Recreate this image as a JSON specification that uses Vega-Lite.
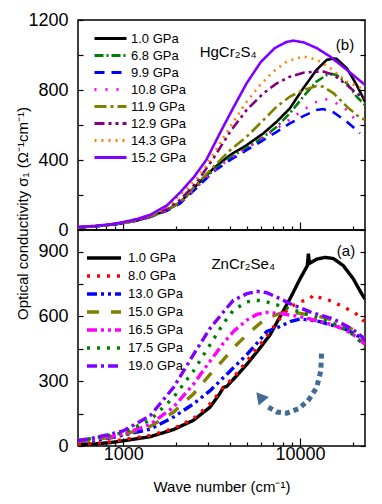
{
"$schema": "https://vega.github.io/schema/vega-lite/v6.json",
"padding": {"left": 14, "top": 10, "right": 5, "bottom": 5},
"background": "white",
"spacing": 0,
"bounds": "flush",
"config": {
  "view": {"stroke": "black", "strokeWidth": 1.5},
  "font": "Liberation Sans",
  "axis": {"grid": false, "domain": false, "labelFont": "Liberation Sans", "labelFontSize": 18, "labelColor": "black", "tickColor": "black", "tickWidth": 1.2, "titleFont": "Liberation Sans", "titleFontWeight": "normal", "titleColor": "black"},
  "legend": {"padding": 0}
},
"datasets": {
"hg": [
{"p":"1.0 GPa","wn":555,"s":15},{"p":"1.0 GPa","wn":700,"s":22},{"p":"1.0 GPa","wn":850,"s":30},{"p":"1.0 GPa","wn":1000,"s":40},{"p":"1.0 GPa","wn":1200,"s":55},{"p":"1.0 GPa","wn":1420,"s":76},{"p":"1.0 GPa","wn":1765,"s":113},{"p":"1.0 GPa","wn":2100,"s":158},{"p":"1.0 GPa","wn":2600,"s":256},{"p":"1.0 GPa","wn":3230,"s":351},{"p":"1.0 GPa","wn":4020,"s":428},{"p":"1.0 GPa","wn":4990,"s":485},{"p":"1.0 GPa","wn":6200,"s":552},{"p":"1.0 GPa","wn":7380,"s":619},{"p":"1.0 GPa","wn":8760,"s":695},{"p":"1.0 GPa","wn":10430,"s":810},{"p":"1.0 GPa","wn":12400,"s":915},{"p":"1.0 GPa","wn":14150,"s":972},{"p":"1.0 GPa","wn":15500,"s":980},{"p":"1.0 GPa","wn":16100,"s":978},{"p":"1.0 GPa","wn":18400,"s":924},{"p":"1.0 GPa","wn":20900,"s":829},{"p":"1.0 GPa","wn":23300,"s":733},
{"p":"6.8 GPa","wn":555,"s":15},{"p":"6.8 GPa","wn":700,"s":22},{"p":"6.8 GPa","wn":850,"s":30},{"p":"6.8 GPa","wn":1000,"s":40},{"p":"6.8 GPa","wn":1200,"s":55},{"p":"6.8 GPa","wn":1420,"s":75},{"p":"6.8 GPa","wn":1765,"s":112},{"p":"6.8 GPa","wn":2100,"s":155},{"p":"6.8 GPa","wn":2600,"s":250},{"p":"6.8 GPa","wn":3230,"s":340},{"p":"6.8 GPa","wn":4020,"s":415},{"p":"6.8 GPa","wn":4990,"s":470},{"p":"6.8 GPa","wn":6200,"s":530},{"p":"6.8 GPa","wn":7380,"s":590},{"p":"6.8 GPa","wn":8760,"s":667},{"p":"6.8 GPa","wn":10430,"s":762},{"p":"6.8 GPa","wn":12400,"s":848},{"p":"6.8 GPa","wn":14150,"s":886},{"p":"6.8 GPa","wn":15100,"s":892},{"p":"6.8 GPa","wn":16100,"s":886},{"p":"6.8 GPa","wn":18400,"s":838},{"p":"6.8 GPa","wn":20900,"s":762},{"p":"6.8 GPa","wn":23300,"s":714},
{"p":"9.9 GPa","wn":555,"s":15},{"p":"9.9 GPa","wn":700,"s":21},{"p":"9.9 GPa","wn":850,"s":29},{"p":"9.9 GPa","wn":1000,"s":39},{"p":"9.9 GPa","wn":1200,"s":54},{"p":"9.9 GPa","wn":1420,"s":74},{"p":"9.9 GPa","wn":1765,"s":110},{"p":"9.9 GPa","wn":2100,"s":152},{"p":"9.9 GPa","wn":2600,"s":240},{"p":"9.9 GPa","wn":3230,"s":332},{"p":"9.9 GPa","wn":4020,"s":399},{"p":"9.9 GPa","wn":4990,"s":456},{"p":"9.9 GPa","wn":6200,"s":514},{"p":"9.9 GPa","wn":7380,"s":561},{"p":"9.9 GPa","wn":8760,"s":609},{"p":"9.9 GPa","wn":10430,"s":651},{"p":"9.9 GPa","wn":12400,"s":686},{"p":"9.9 GPa","wn":13540,"s":691},{"p":"9.9 GPa","wn":15500,"s":672},{"p":"9.9 GPa","wn":18400,"s":619},{"p":"9.9 GPa","wn":20900,"s":570},{"p":"9.9 GPa","wn":21800,"s":552},
{"p":"10.8 GPa","wn":555,"s":15},{"p":"10.8 GPa","wn":700,"s":22},{"p":"10.8 GPa","wn":850,"s":30},{"p":"10.8 GPa","wn":1000,"s":40},{"p":"10.8 GPa","wn":1200,"s":55},{"p":"10.8 GPa","wn":1420,"s":75},{"p":"10.8 GPa","wn":1765,"s":112},{"p":"10.8 GPa","wn":2100,"s":155},{"p":"10.8 GPa","wn":2600,"s":245},{"p":"10.8 GPa","wn":3230,"s":335},{"p":"10.8 GPa","wn":4020,"s":410},{"p":"10.8 GPa","wn":4990,"s":465},{"p":"10.8 GPa","wn":6200,"s":530},{"p":"10.8 GPa","wn":7380,"s":580},{"p":"10.8 GPa","wn":8760,"s":632},{"p":"10.8 GPa","wn":10430,"s":686},{"p":"10.8 GPa","wn":12400,"s":733},{"p":"10.8 GPa","wn":13800,"s":749},{"p":"10.8 GPa","wn":15500,"s":733},{"p":"10.8 GPa","wn":18400,"s":686},{"p":"10.8 GPa","wn":20900,"s":620},{"p":"10.8 GPa","wn":21800,"s":600},
{"p":"11.9 GPa","wn":555,"s":15},{"p":"11.9 GPa","wn":700,"s":22},{"p":"11.9 GPa","wn":850,"s":30},{"p":"11.9 GPa","wn":1000,"s":40},{"p":"11.9 GPa","wn":1200,"s":56},{"p":"11.9 GPa","wn":1420,"s":77},{"p":"11.9 GPa","wn":1765,"s":115},{"p":"11.9 GPa","wn":2100,"s":160},{"p":"11.9 GPa","wn":2600,"s":260},{"p":"11.9 GPa","wn":3230,"s":360},{"p":"11.9 GPa","wn":4020,"s":456},{"p":"11.9 GPa","wn":4990,"s":533},{"p":"11.9 GPa","wn":6200,"s":628},{"p":"11.9 GPa","wn":7380,"s":705},{"p":"11.9 GPa","wn":8760,"s":762},{"p":"11.9 GPa","wn":10430,"s":800},{"p":"11.9 GPa","wn":12400,"s":823},{"p":"11.9 GPa","wn":13540,"s":819},{"p":"11.9 GPa","wn":15500,"s":781},{"p":"11.9 GPa","wn":18400,"s":705},{"p":"11.9 GPa","wn":20900,"s":657},{"p":"11.9 GPa","wn":23300,"s":628},
{"p":"12.9 GPa","wn":555,"s":15},{"p":"12.9 GPa","wn":700,"s":22},{"p":"12.9 GPa","wn":850,"s":31},{"p":"12.9 GPa","wn":1000,"s":42},{"p":"12.9 GPa","wn":1200,"s":58},{"p":"12.9 GPa","wn":1420,"s":80},{"p":"12.9 GPa","wn":1765,"s":120},{"p":"12.9 GPa","wn":2100,"s":172},{"p":"12.9 GPa","wn":2600,"s":272},{"p":"12.9 GPa","wn":3230,"s":408},{"p":"12.9 GPa","wn":4020,"s":561},{"p":"12.9 GPa","wn":4990,"s":686},{"p":"12.9 GPa","wn":6200,"s":781},{"p":"12.9 GPa","wn":7380,"s":838},{"p":"12.9 GPa","wn":8760,"s":876},{"p":"12.9 GPa","wn":10430,"s":899},{"p":"12.9 GPa","wn":12400,"s":905},{"p":"12.9 GPa","wn":13540,"s":905},{"p":"12.9 GPa","wn":15500,"s":886},{"p":"12.9 GPa","wn":18400,"s":829},{"p":"12.9 GPa","wn":20900,"s":781},{"p":"12.9 GPa","wn":23300,"s":750},
{"p":"14.3 GPa","wn":555,"s":16},{"p":"14.3 GPa","wn":700,"s":23},{"p":"14.3 GPa","wn":850,"s":32},{"p":"14.3 GPa","wn":1000,"s":43},{"p":"14.3 GPa","wn":1200,"s":60},{"p":"14.3 GPa","wn":1420,"s":82},{"p":"14.3 GPa","wn":1765,"s":130},{"p":"14.3 GPa","wn":2100,"s":200},{"p":"14.3 GPa","wn":2610,"s":294},{"p":"14.3 GPa","wn":2970,"s":371},{"p":"14.3 GPa","wn":3380,"s":466},{"p":"14.3 GPa","wn":4200,"s":619},{"p":"14.3 GPa","wn":5000,"s":734},{"p":"14.3 GPa","wn":5950,"s":829},{"p":"14.3 GPa","wn":7080,"s":906},{"p":"14.3 GPa","wn":8420,"s":963},{"p":"14.3 GPa","wn":10460,"s":992},{"p":"14.3 GPa","wn":12450,"s":973},{"p":"14.3 GPa","wn":14800,"s":925},{"p":"14.3 GPa","wn":18400,"s":848},{"p":"14.3 GPa","wn":23300,"s":800},
{"p":"15.2 GPa","wn":555,"s":17},{"p":"15.2 GPa","wn":700,"s":24},{"p":"15.2 GPa","wn":850,"s":33},{"p":"15.2 GPa","wn":1000,"s":45},{"p":"15.2 GPa","wn":1200,"s":63},{"p":"15.2 GPa","wn":1420,"s":87},{"p":"15.2 GPa","wn":1765,"s":140},{"p":"15.2 GPa","wn":2100,"s":215},{"p":"15.2 GPa","wn":2500,"s":300},{"p":"15.2 GPa","wn":2950,"s":400},{"p":"15.2 GPa","wn":3550,"s":560},{"p":"15.2 GPa","wn":4200,"s":700},{"p":"15.2 GPa","wn":5000,"s":840},{"p":"15.2 GPa","wn":6000,"s":960},{"p":"15.2 GPa","wn":7200,"s":1040},{"p":"15.2 GPa","wn":8400,"s":1075},{"p":"15.2 GPa","wn":9200,"s":1082},{"p":"15.2 GPa","wn":10500,"s":1072},{"p":"15.2 GPa","wn":12400,"s":1040},{"p":"15.2 GPa","wn":14800,"s":991},{"p":"15.2 GPa","wn":18400,"s":915},{"p":"15.2 GPa","wn":23300,"s":829}
],
"zn": [
{"p":"1.0 GPa","wn":555,"s":5},{"p":"1.0 GPa","wn":700,"s":10},{"p":"1.0 GPa","wn":850,"s":16},{"p":"1.0 GPa","wn":1000,"s":24},{"p":"1.0 GPa","wn":1420,"s":43},{"p":"1.0 GPa","wn":1925,"s":76},{"p":"1.0 GPa","wn":2495,"s":119},{"p":"1.0 GPa","wn":3100,"s":180},{"p":"1.0 GPa","wn":3500,"s":240},{"p":"1.0 GPa","wn":3690,"s":271},{"p":"1.0 GPa","wn":3850,"s":276},{"p":"1.0 GPa","wn":4200,"s":309},{"p":"1.0 GPa","wn":5000,"s":378},{"p":"1.0 GPa","wn":5940,"s":454},{"p":"1.0 GPa","wn":6770,"s":515},{"p":"1.0 GPa","wn":7710,"s":599},{"p":"1.0 GPa","wn":8780,"s":682},{"p":"1.0 GPa","wn":10000,"s":774},{"p":"1.0 GPa","wn":11000,"s":835},{"p":"1.0 GPa","wn":11150,"s":890},{"p":"1.0 GPa","wn":11300,"s":845},{"p":"1.0 GPa","wn":12420,"s":865},{"p":"1.0 GPa","wn":13840,"s":873},{"p":"1.0 GPa","wn":15420,"s":868},{"p":"1.0 GPa","wn":17570,"s":835},{"p":"1.0 GPa","wn":20010,"s":774},{"p":"1.0 GPa","wn":22300,"s":705},{"p":"1.0 GPa","wn":23300,"s":680},
{"p":"8.0 GPa","wn":555,"s":8},{"p":"8.0 GPa","wn":700,"s":12},{"p":"8.0 GPa","wn":850,"s":20},{"p":"8.0 GPa","wn":1000,"s":30},{"p":"8.0 GPa","wn":1420,"s":49},{"p":"8.0 GPa","wn":1925,"s":81},{"p":"8.0 GPa","wn":2495,"s":126},{"p":"8.0 GPa","wn":3100,"s":195},{"p":"8.0 GPa","wn":3690,"s":271},{"p":"8.0 GPa","wn":4200,"s":317},{"p":"8.0 GPa","wn":5000,"s":393},{"p":"8.0 GPa","wn":5940,"s":469},{"p":"8.0 GPa","wn":6770,"s":530},{"p":"8.0 GPa","wn":7710,"s":591},{"p":"8.0 GPa","wn":8780,"s":644},{"p":"8.0 GPa","wn":10000,"s":667},{"p":"8.0 GPa","wn":11390,"s":682},{"p":"8.0 GPa","wn":11900,"s":700},{"p":"8.0 GPa","wn":12420,"s":690},{"p":"8.0 GPa","wn":13840,"s":682},{"p":"8.0 GPa","wn":15420,"s":667},{"p":"8.0 GPa","wn":17570,"s":644},{"p":"8.0 GPa","wn":20010,"s":621},{"p":"8.0 GPa","wn":22300,"s":594},{"p":"8.0 GPa","wn":23300,"s":570},
{"p":"13.0 GPa","wn":555,"s":20},{"p":"13.0 GPa","wn":700,"s":28},{"p":"13.0 GPa","wn":850,"s":38},{"p":"13.0 GPa","wn":1000,"s":50},{"p":"13.0 GPa","wn":1420,"s":78},{"p":"13.0 GPa","wn":1925,"s":134},{"p":"13.0 GPa","wn":2495,"s":195},{"p":"13.0 GPa","wn":3100,"s":256},{"p":"13.0 GPa","wn":3690,"s":317},{"p":"13.0 GPa","wn":4200,"s":362},{"p":"13.0 GPa","wn":5000,"s":423},{"p":"13.0 GPa","wn":5940,"s":492},{"p":"13.0 GPa","wn":6480,"s":530},{"p":"13.0 GPa","wn":7710,"s":553},{"p":"13.0 GPa","wn":8780,"s":576},{"p":"13.0 GPa","wn":10000,"s":588},{"p":"13.0 GPa","wn":11390,"s":583},{"p":"13.0 GPa","wn":12970,"s":576},{"p":"13.0 GPa","wn":15420,"s":557},{"p":"13.0 GPa","wn":17570,"s":545},{"p":"13.0 GPa","wn":20010,"s":522},{"p":"13.0 GPa","wn":22300,"s":500},{"p":"13.0 GPa","wn":23300,"s":475},
{"p":"15.0 GPa","wn":555,"s":20},{"p":"15.0 GPa","wn":700,"s":30},{"p":"15.0 GPa","wn":850,"s":40},{"p":"15.0 GPa","wn":1000,"s":52},{"p":"15.0 GPa","wn":1420,"s":90},{"p":"15.0 GPa","wn":1925,"s":157},{"p":"15.0 GPa","wn":2495,"s":241},{"p":"15.0 GPa","wn":3100,"s":332},{"p":"15.0 GPa","wn":3690,"s":400},{"p":"15.0 GPa","wn":4200,"s":454},{"p":"15.0 GPa","wn":5000,"s":515},{"p":"15.0 GPa","wn":5940,"s":568},{"p":"15.0 GPa","wn":6480,"s":591},{"p":"15.0 GPa","wn":7710,"s":614},{"p":"15.0 GPa","wn":8780,"s":621},{"p":"15.0 GPa","wn":10000,"s":614},{"p":"15.0 GPa","wn":11390,"s":606},{"p":"15.0 GPa","wn":12970,"s":599},{"p":"15.0 GPa","wn":15420,"s":583},{"p":"15.0 GPa","wn":17570,"s":560},{"p":"15.0 GPa","wn":20010,"s":538},{"p":"15.0 GPa","wn":22300,"s":515},{"p":"15.0 GPa","wn":23300,"s":500},
{"p":"16.5 GPa","wn":555,"s":25},{"p":"16.5 GPa","wn":700,"s":33},{"p":"16.5 GPa","wn":850,"s":43},{"p":"16.5 GPa","wn":1000,"s":55},{"p":"16.5 GPa","wn":1420,"s":100},{"p":"16.5 GPa","wn":1925,"s":180},{"p":"16.5 GPa","wn":2495,"s":286},{"p":"16.5 GPa","wn":3100,"s":393},{"p":"16.5 GPa","wn":3690,"s":477},{"p":"16.5 GPa","wn":4200,"s":530},{"p":"16.5 GPa","wn":5000,"s":583},{"p":"16.5 GPa","wn":5690,"s":609},{"p":"16.5 GPa","wn":6480,"s":618},{"p":"16.5 GPa","wn":7710,"s":614},{"p":"16.5 GPa","wn":8780,"s":606},{"p":"16.5 GPa","wn":10000,"s":599},{"p":"16.5 GPa","wn":11390,"s":588},{"p":"16.5 GPa","wn":12970,"s":576},{"p":"16.5 GPa","wn":15420,"s":560},{"p":"16.5 GPa","wn":17570,"s":542},{"p":"16.5 GPa","wn":20010,"s":515},{"p":"16.5 GPa","wn":22300,"s":484},{"p":"16.5 GPa","wn":23300,"s":470},
{"p":"17.5 GPa","wn":555,"s":25},{"p":"17.5 GPa","wn":700,"s":38},{"p":"17.5 GPa","wn":850,"s":50},{"p":"17.5 GPa","wn":1000,"s":62},{"p":"17.5 GPa","wn":1420,"s":120},{"p":"17.5 GPa","wn":1925,"s":225},{"p":"17.5 GPa","wn":2495,"s":347},{"p":"17.5 GPa","wn":3100,"s":469},{"p":"17.5 GPa","wn":3690,"s":568},{"p":"17.5 GPa","wn":4200,"s":629},{"p":"17.5 GPa","wn":5000,"s":667},{"p":"17.5 GPa","wn":5690,"s":675},{"p":"17.5 GPa","wn":6480,"s":667},{"p":"17.5 GPa","wn":7710,"s":649},{"p":"17.5 GPa","wn":8780,"s":634},{"p":"17.5 GPa","wn":10000,"s":621},{"p":"17.5 GPa","wn":11390,"s":606},{"p":"17.5 GPa","wn":12970,"s":591},{"p":"17.5 GPa","wn":15420,"s":568},{"p":"17.5 GPa","wn":17570,"s":545},{"p":"17.5 GPa","wn":20010,"s":515},{"p":"17.5 GPa","wn":22300,"s":477},{"p":"17.5 GPa","wn":23300,"s":450},
{"p":"19.0 GPa","wn":555,"s":25},{"p":"19.0 GPa","wn":700,"s":40},{"p":"19.0 GPa","wn":850,"s":55},{"p":"19.0 GPa","wn":1000,"s":70},{"p":"19.0 GPa","wn":1420,"s":140},{"p":"19.0 GPa","wn":1925,"s":271},{"p":"19.0 GPa","wn":2495,"s":423},{"p":"19.0 GPa","wn":3100,"s":545},{"p":"19.0 GPa","wn":3690,"s":621},{"p":"19.0 GPa","wn":4200,"s":675},{"p":"19.0 GPa","wn":5000,"s":705},{"p":"19.0 GPa","wn":5690,"s":716},{"p":"19.0 GPa","wn":6480,"s":710},{"p":"19.0 GPa","wn":7710,"s":682},{"p":"19.0 GPa","wn":8780,"s":659},{"p":"19.0 GPa","wn":10000,"s":640},{"p":"19.0 GPa","wn":11390,"s":621},{"p":"19.0 GPa","wn":12970,"s":606},{"p":"19.0 GPa","wn":15420,"s":588},{"p":"19.0 GPa","wn":17570,"s":564},{"p":"19.0 GPa","wn":20010,"s":538},{"p":"19.0 GPa","wn":22300,"s":507},{"p":"19.0 GPa","wn":23300,"s":490}
],
"notes_b": [{"t":"HgCr₂S₄","wn":3920,"s":1020},{"t":"(b)","wn":17950,"s":1060}],
"notes_a": [{"t":"ZnCr₂Se₄","wn":4770,"s":843},{"t":"(a)","wn":18200,"s":903}],
"arrow": [{"wn":13250,"s":446},{"wn":13100,"s":347},{"wn":12420,"s":271},{"wn":11120,"s":210},{"wn":9780,"s":172},{"wn":8410,"s":152},{"wn":7380,"s":157},{"wn":6620,"s":180}],
"arrowhead": [{"wn":5940,"s":228}]
},
"vconcat": [
{
  "width": 287, "height": 210,
  "layer": [
    {
      "data": {"name": "hg"},
      "mark": {"type": "line", "strokeWidth": 2.6, "clip": true},
      "encoding": {
        "x": {"field": "wn", "type": "quantitative", "scale": {"type": "log", "domain": [555, 23300], "nice": false},
              "axis": {"values": [600,700,800,900,1000,2000,3000,4000,5000,6000,7000,8000,9000,10000,20000], "labels": false, "title": null,
                       "tickSize": {"condition": {"test": "datum.value == 1000 || datum.value == 10000", "value": -8}, "value": -4}}},
        "y": {"field": "s", "type": "quantitative", "scale": {"domain": [0, 1200], "nice": false},
              "axis": {"values": [0,200,400,600,800,1000,1200], "labelExpr": "datum.value % 400 == 0 ? '' + datum.value : ''", "tickSize": -5, "labelPadding": 15,
                       "title": "Optical conductivity  σ₁ (Ω⁻¹cm⁻¹)", "titleFontSize": 15, "titleX": -48, "titleY": 193, "titleAngle": -90, "titleAlign": "center", "titleBaseline": "bottom"}},
        "color": {"field": "p", "type": "nominal",
                  "scale": {"domain": ["1.0 GPa","6.8 GPa","9.9 GPa","10.8 GPa","11.9 GPa","12.9 GPa","14.3 GPa","15.2 GPa"],
                            "range": ["#000000","#008000","#0000FF","#FF00FF","#808000","#800080","#FF8000","#8000FF"]},
                  "legend": {"orient": "none", "legendX": 23, "legendY": 9, "title": null, "labelFontSize": 13, "labelFont": "Liberation Sans", "labelColor": "black", "symbolType": "M-2,0H2", "symbolStrokeWidth": 3, "symbolSize": 256, "rowPadding": 0, "labelOffset": 11}},
        "strokeDash": {"field": "p", "type": "nominal",
                  "scale": {"domain": ["1.0 GPa","6.8 GPa","9.9 GPa","10.8 GPa","11.9 GPa","12.9 GPa","14.3 GPa","15.2 GPa"],
                            "range": [[1,0],[9,3,2,3],[10,7],[2,9],[12,4,3,4],[10,4,3,4,3,4],[2,5],[1,0]]},
                  "legend": {"orient": "none", "legendX": 23, "legendY": 9, "title": null, "labelFontSize": 13, "labelFont": "Liberation Sans", "labelColor": "black", "symbolType": "M-2,0H2", "symbolStrokeWidth": 3, "symbolSize": 256, "rowPadding": 0, "labelOffset": 11}}
      }
    },
    {
      "data": {"name": "notes_b"},
      "mark": {"type": "text", "fontSize": 15, "font": "Liberation Sans", "color": "black"},
      "encoding": {
        "x": {"field": "wn", "type": "quantitative"},
        "y": {"field": "s", "type": "quantitative", "scale": {"domain": [0, 1200], "nice": false},
              "axis": {"orient": "right", "values": [0,200,400,600,800,1000,1200], "labels": false, "tickSize": -5, "title": null}},
        "text": {"field": "t"}
      }
    }
  ],
  "resolve": {"axis": {"y": "independent"}}
},
{
  "width": 287, "height": 216,
  "layer": [
    {
      "data": {"name": "zn"},
      "mark": {"type": "line", "strokeWidth": 3.4, "clip": true},
      "encoding": {
        "x": {"field": "wn", "type": "quantitative", "scale": {"type": "log", "domain": [555, 23300], "nice": false},
              "axis": {"values": [600,700,800,900,1000,2000,3000,4000,5000,6000,7000,8000,9000,10000,20000],
                       "labelExpr": "datum.value == 1000 ? '1000' : datum.value == 10000 ? '10000' : ''", "labelPadding": 7,
                       "tickSize": {"condition": {"test": "datum.value == 1000 || datum.value == 10000", "value": -8}, "value": -4},
                       "title": "Wave number (cm⁻¹)", "titleFontSize": 15, "titlePadding": 16}},
        "y": {"field": "s", "type": "quantitative", "scale": {"domain": [0, 1000], "nice": false},
              "axis": {"values": [0,150,300,450,600,750,900], "labelExpr": "datum.value % 300 == 0 ? '' + datum.value : ''", "tickSize": -5, "labelPadding": 15, "title": null}},
        "color": {"field": "p", "type": "nominal",
                  "scale": {"domain": ["1.0 GPa","8.0 GPa","13.0 GPa","15.0 GPa","16.5 GPa","17.5 GPa","19.0 GPa"],
                            "range": ["#000000","#FF0000","#0000FF","#808000","#FF00FF","#008000","#8000FF"]},
                  "legend": {"orient": "none", "legendX": 15.5, "legendY": 17.5, "title": null, "labelFontSize": 13, "labelFont": "Liberation Sans", "labelColor": "black", "symbolType": "M-2,0H2", "symbolStrokeWidth": 3.5, "symbolSize": 289, "rowPadding": 0, "labelOffset": 13.5}},
        "strokeDash": {"field": "p", "type": "nominal",
                  "scale": {"domain": ["1.0 GPa","8.0 GPa","13.0 GPa","15.0 GPa","16.5 GPa","17.5 GPa","19.0 GPa"],
                            "range": [[1,0],[3,7],[10,4,3,4,3,4],[12,12],[10,4,3,4,3,4],[3,7],[10,4,3,4]]},
                  "legend": {"orient": "none", "legendX": 15.5, "legendY": 17.5, "title": null, "labelFontSize": 13, "labelFont": "Liberation Sans", "labelColor": "black", "symbolType": "M-2,0H2", "symbolStrokeWidth": 3.5, "symbolSize": 289, "rowPadding": 0, "labelOffset": 13.5}}
      }
    },
    {
      "data": {"name": "arrow"},
      "mark": {"type": "line", "strokeWidth": 5, "strokeDash": [5, 4], "color": "#3F6B96"},
      "encoding": {"x": {"field": "wn", "type": "quantitative"}, "y": {"field": "s", "type": "quantitative", "axis": null}}
    },
    {
      "data": {"name": "arrowhead"},
      "mark": {"type": "point", "shape": "triangle-up", "filled": true, "size": 180, "angle": -40, "color": "#3F6B96", "opacity": 1},
      "encoding": {"x": {"field": "wn", "type": "quantitative"}, "y": {"field": "s", "type": "quantitative", "axis": null}}
    },
    {
      "data": {"name": "notes_a"},
      "mark": {"type": "text", "fontSize": 15, "font": "Liberation Sans", "color": "black"},
      "encoding": {
        "x": {"field": "wn", "type": "quantitative"},
        "y": {"field": "s", "type": "quantitative", "scale": {"domain": [0, 1000], "nice": false},
              "axis": {"orient": "right", "values": [0,150,300,450,600,750,900], "labels": false, "tickSize": -5, "title": null}},
        "text": {"field": "t"}
      }
    }
  ],
  "resolve": {"axis": {"y": "independent"}}
}
],
"resolve": {"scale": {"color": "independent", "strokeDash": "independent"}, "legend": {"color": "independent", "strokeDash": "independent"}}
}
